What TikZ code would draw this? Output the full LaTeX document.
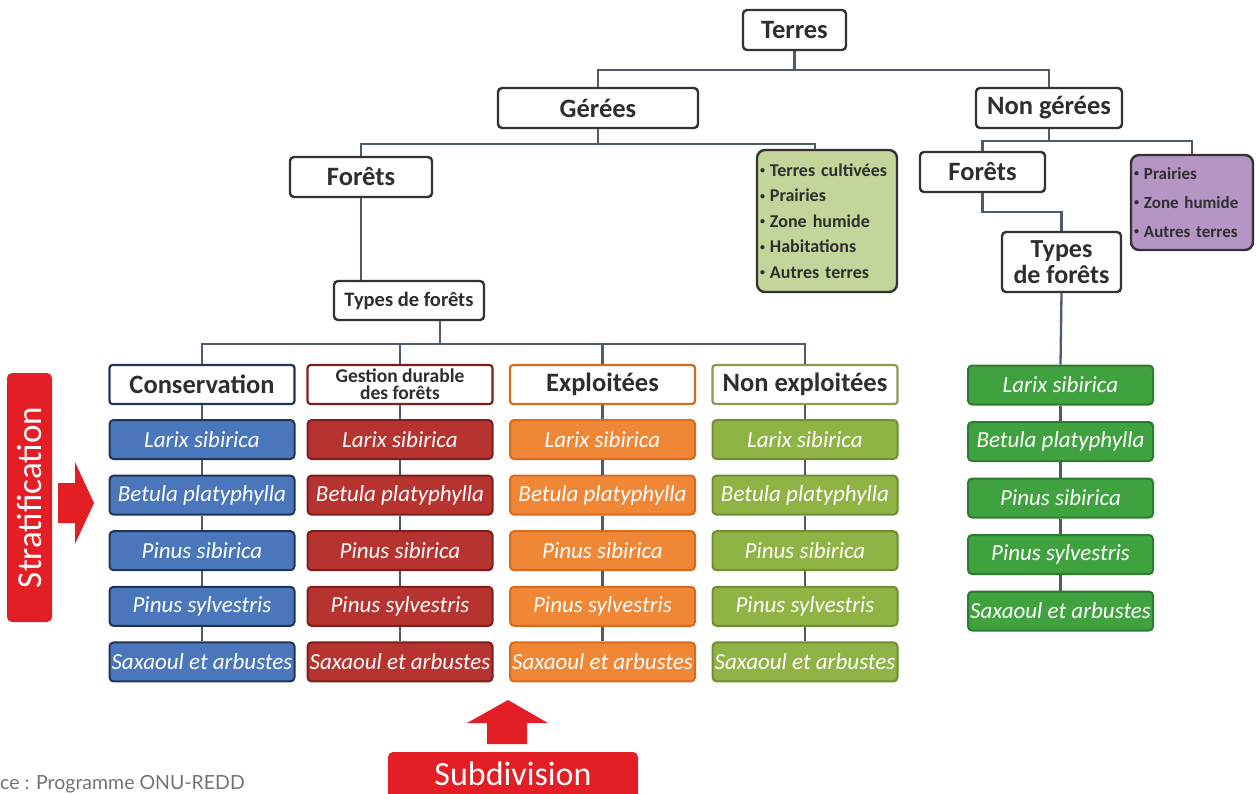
\documentclass[tikz,border=0pt]{standalone}
\usepackage{fontspec}
\setmainfont{Carlito}
\newfontfamily\srcfont{Lato}
\definecolor{linec}{HTML}{4D5B70}
\definecolor{boxline}{HTML}{333333}
\definecolor{txt}{HTML}{2E2E2E}
\definecolor{blueF}{HTML}{4A76BC}
\definecolor{blueD}{HTML}{22335A}
\definecolor{redF}{HTML}{B7332F}
\definecolor{redD}{HTML}{7E1E1C}
\definecolor{orF}{HTML}{EF8736}
\definecolor{orD}{HTML}{D9691C}
\definecolor{olF}{HTML}{8FB345}
\definecolor{olD}{HTML}{6E8F33}
\definecolor{grF}{HTML}{3FA23F}
\definecolor{grD}{HTML}{2B7E2E}
\definecolor{listG}{HTML}{C3D59A}
\definecolor{listP}{HTML}{B594C6}
\definecolor{hdrD}{HTML}{8E9B4F}
\definecolor{alert}{HTML}{E31E24}
% small list bullet
\newcommand\lbul{{\fontsize{10}{10}\selectfont\raisebox{2.5pt}{\textbullet}}\hspace{5pt}}
\begin{document}
\begin{tikzpicture}[x=1pt,y=-1pt,
  conn/.style={draw=linec, line width=2.3pt},
  topbox/.style={draw=boxline, line width=2.4pt, fill=white, rounded corners=4pt,
    font=\bfseries\fontsize{26.5}{28}\selectfont, text=txt, inner sep=0pt, align=center,
    minimum height=40},
  listbox/.style={draw=boxline, line width=2.4pt, rounded corners=8pt,
    font=\bfseries\fontsize{18}{25.4}\selectfont, text=txt, inner sep=0pt, align=left},
  hdr/.style={line width=2.2pt, fill=white, rounded corners=3pt,
    font=\bfseries\fontsize{26.5}{28}\selectfont, text=txt, inner sep=0pt, align=center,
    minimum width=185, minimum height=39},
  sp/.style={line width=2pt, rounded corners=4pt, text=white,
    font=\itshape\fontsize{23}{25}\selectfont, inner sep=0pt,
    minimum width=185, minimum height=39},
  tag/.style={fill=alert, rounded corners=5pt, text=white, inner sep=0pt}
]
\useasboundingbox (0,0) rectangle (1257,793);

% upper hierarchy
\node[topbox, minimum width=103] (terres) at (794.5,30) {Terres};
\node[topbox, minimum width=200] (geree) at (598,108) {Gérées};
\node[topbox, minimum width=146] (nongeree) at (1049,108) {Non gérées};
\node[topbox, minimum width=142] (foretsL) at (361,177) {Forêts};
\node[topbox, minimum width=125] (foretsR) at (982.5,172) {Forêts};
\node[topbox, minimum width=150, minimum height=39,
      font=\bfseries\fontsize{20.5}{22}\selectfont] (typesL) at (409,300.5) {Types de forêts};
\node[topbox, minimum width=119, minimum height=60,
      font=\bfseries\fontsize{26}{26}\selectfont] (typesR) at (1061.5,262) {Types\\de forêts};
\node[listbox, fill=listG, minimum width=140, minimum height=142, text width=134]
  (cult) at (827,221)
  {\lbul Terres cultivées\\\lbul Prairies\\\lbul Zone humide\\
   \lbul Habitations\\\lbul Autres terres};
\node[listbox, fill=listP, minimum width=122, minimum height=95, text width=116,
      font=\bfseries\fontsize{17}{29}\selectfont]
  (autres) at (1192,202.5)
  {\lbul Prairies\\\lbul Zone humide\\\lbul Autres terres};

\draw[conn] (terres.south) -- ++(0,19) coordinate (j1);
\draw[conn] (j1) -| (geree.north);
\draw[conn] (j1) -| (nongeree.north);
\draw[conn] (geree.south) -- ++(0,15) coordinate (j2);
\draw[conn] (j2) -| (foretsL.north);
\draw[conn] (j2) -| ([xshift=-12pt]cult.north);
\draw[conn] (nongeree.south) -- ++(0,12) coordinate (j3);
\draw[conn] (j3) -| (foretsR.north);
\draw[conn] (j3) -| (autres.north);
\draw[conn] (foretsL.south) -- (foretsL.south |- typesL.north);
\draw[conn] (foretsR.south) -- ++(0,19) -| (typesR.north);

% forest type headers
\node[hdr, draw=blueD] (ha) at (202,384.5) {Conservation};
\node[hdr, draw=redD, font=\bfseries\fontsize{19.5}{17}\selectfont] (hb) at (400,384.5)
  {Gestion durable\\des forêts};
\node[hdr, draw=orD] (hc) at (602.5,384.5) {Exploitées};
\node[hdr, draw=hdrD] (hd) at (805,384.5) {Non exploitées};

\draw[conn] (typesL.south -| 440,0) -- ++(0,23) coordinate (j4);
\draw[conn] (j4) -| (ha.north);
\draw[conn] (j4) -| (hb.north);
\draw[conn] (j4) -| (hc.north);
\draw[conn] (j4) -| (hd.north);

% species strata of each forest type
\foreach \c/\x/\fc/\dc in {a/202/blueF/blueD, b/400/redF/redD, c/602.5/orF/orD, d/805/olF/olD}{
  \foreach \s [count=\i from 0] in {Larix sibirica, Betula platyphylla, Pinus sibirica,
      Pinus sylvestris, Saxaoul et arbustes}{
    \node[sp, fill=\fc, draw=\dc] (\c\i) at (\x,439.5+55.6*\i) {\s};
  }
}
\foreach \s [count=\i from 0] in {Larix sibirica, Betula platyphylla, Pinus sibirica,
    Pinus sylvestris, Saxaoul et arbustes}{
  \node[sp, fill=grF, draw=grD] (e\i) at (1060.5,385+56.5*\i) {\s};
}
\foreach \c in {a,b,c,d}{
  \draw[conn] (h\c.south) -- (\c0.north);
  \draw[conn] (\c0.south) -- (\c1.north);
  \draw[conn] (\c1.south) -- (\c2.north);
  \draw[conn] (\c2.south) -- (\c3.north);
  \draw[conn] (\c3.south) -- (\c4.north);
}
\draw[conn] (typesR.south) -- (e0.north);
\draw[conn] (e0.south) -- (e1.north);
\draw[conn] (e1.south) -- (e2.north);
\draw[conn] (e2.south) -- (e3.north);
\draw[conn] (e3.south) -- (e4.north);

% side labels and arrows
\node[tag, rotate=90, minimum width=249, minimum height=45,
      font=\fontsize{35}{35}\selectfont] (strat) at (29.5,497.5) {Stratification};
\fill[alert] (58,483) -- (75,483) -- (75,462) -- (94,503) -- (75,544) -- (75,523) -- (58,523) -- cycle;
\fill[alert, rounded corners=5pt] (388,752) rectangle (638,805);
\node[anchor=base, inner sep=0pt, text=white, font=\fontsize{34}{34}\selectfont]
  (subdiv) at (513,785) {Subdivision};
\fill[alert] (487,744) -- (487,723) -- (467,723) -- (508,700) -- (548,723) -- (527,723) -- (527,744) -- cycle;

\node[anchor=base west, inner sep=0pt, text=black!55, font=\srcfont\fontsize{19.5}{20}\selectfont]
  (src) at (0,789) {ce : Programme ONU-REDD};
\end{tikzpicture}
\end{document}
